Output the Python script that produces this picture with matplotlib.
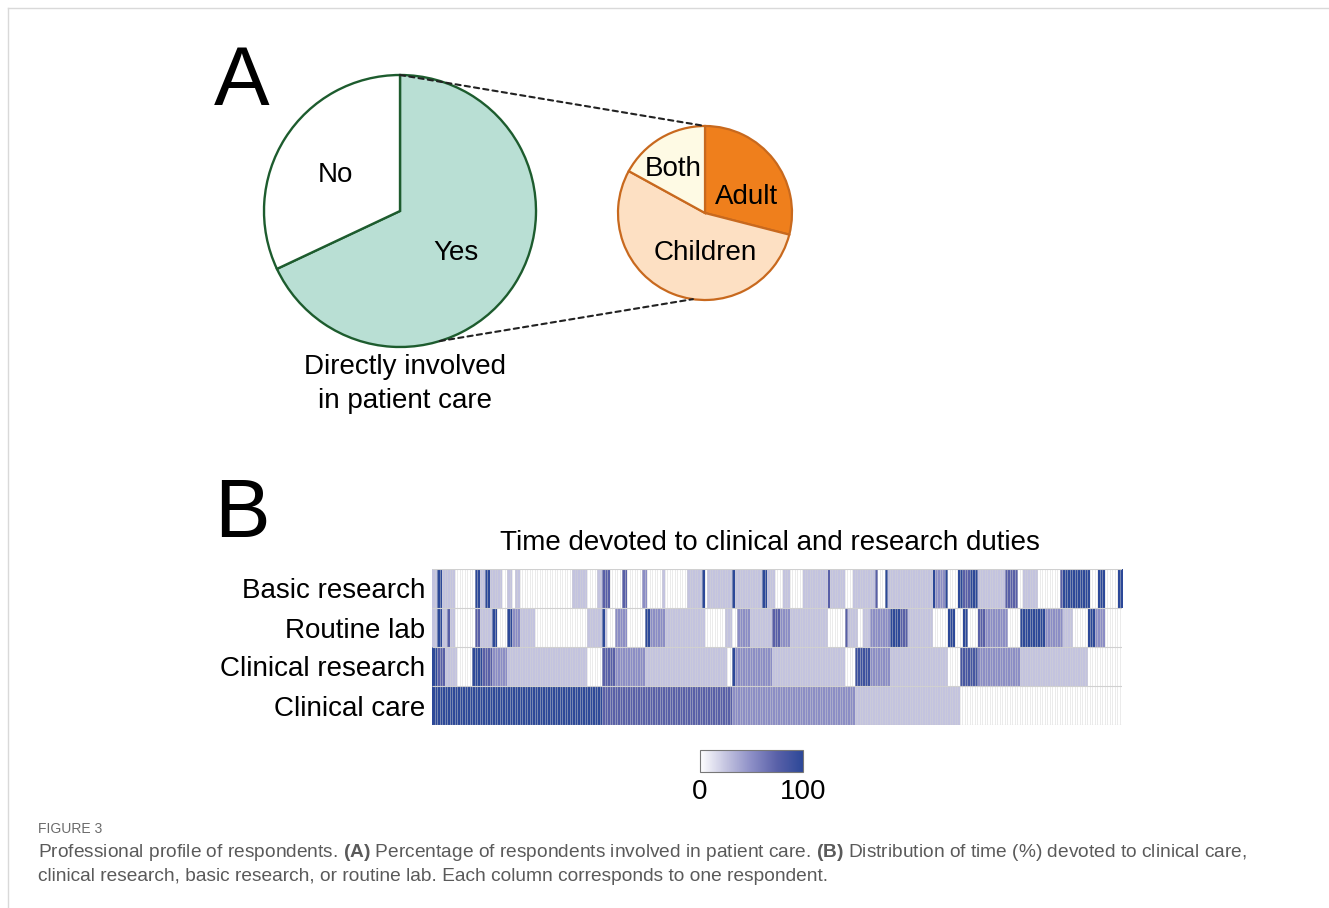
"""Professional profile of respondents: patient care pies and time heatmap"""
import numpy as np
import matplotlib.pyplot as plt
from matplotlib import font_manager
from matplotlib.colors import LinearSegmentedColormap
from matplotlib.lines import Line2D
from matplotlib.patches import ConnectionPatch

W, H = 1329, 908

# Panel A
CARE_LABELS = ["Yes", "No"]
CARE_PCT = [68, 32]
AGE_LABELS = ["Adult", "Children", "Both"]
AGE_PCT = [29, 54, 17]

# Panel B, one column per respondent, rows stored as runs of
# (first respondent index, % time)
N_RESP = 276
ROWS = ["Basic research", "Routine lab", "Clinical research", "Clinical care"]
BASIC_RESEARCH = [
    (0, 25), (2, 100), (4, 25), (9, 0), (17, 100), (19, 25), (21, 100),
    (23, 25), (28, 0), (30, 25), (32, 0), (33, 25), (35, 0), (56, 25),
    (62, 0), (66, 25), (68, 75), (71, 0), (76, 75), (78, 0), (84, 50),
    (86, 0), (92, 25), (93, 0), (102, 25), (108, 100), (109, 0), (110, 25),
    (120, 100), (121, 25), (132, 100), (134, 25), (137, 0), (140, 25),
    (143, 0), (148, 25), (158, 75), (159, 25), (165, 0), (168, 25),
    (177, 75), (178, 0), (181, 100), (182, 25), (200, 100), (201, 50),
    (205, 100), (206, 0), (210, 100), (212, 75), (215, 100), (218, 25),
    (229, 75), (234, 0), (236, 25), (242, 0), (251, 75), (252, 100),
    (263, 0), (266, 100), (269, 0), (274, 100),
]
ROUTINE_LAB = [
    (0, 25), (2, 100), (4, 25), (6, 75), (7, 25), (9, 0), (17, 75),
    (19, 25), (24, 100), (26, 0), (30, 100), (32, 50), (35, 25), (41, 0),
    (62, 25), (68, 100), (69, 25), (70, 0), (73, 50), (78, 0), (85, 100),
    (87, 50), (93, 25), (109, 0), (117, 25), (120, 0), (122, 50), (127, 25),
    (136, 75), (139, 50), (143, 25), (158, 0), (165, 75), (166, 25),
    (170, 0), (172, 25), (175, 50), (183, 100), (187, 75), (190, 25),
    (200, 0), (206, 100), (209, 0), (212, 100), (214, 0), (218, 75),
    (221, 50), (230, 0), (235, 100), (245, 50), (252, 25), (256, 0),
    (262, 100), (265, 50), (269, 0),
]
CLINICAL_RESEARCH = [
    (0, 100), (2, 75), (5, 25), (10, 0), (16, 100), (20, 75), (24, 50),
    (30, 25), (62, 0), (68, 75), (73, 50), (85, 25), (118, 0), (120, 100),
    (121, 50), (136, 25), (165, 0), (169, 90), (175, 50), (183, 25),
    (206, 0), (211, 85), (218, 50), (235, 25), (262, 0),
]
CLINICAL_CARE = [(0, 100), (68, 75), (120, 50), (169, 25), (211, 0)]


def expand(runs):
    """Turn (start, value) runs into one value per respondent"""
    vals = np.zeros(N_RESP)
    ends = [s for s, _ in runs[1:]] + [N_RESP]
    for (start, val), end in zip(runs, ends):
        vals[start:end] = val
    return vals


def fx(px):
    return px / W


def fy(py):
    return 1 - py / H


names = {f.name for f in font_manager.fontManager.ttflist}
CAPTION_FONT = ("Liberation Sans Narrow" if "Liberation Sans Narrow" in names
                else "Liberation Sans")
CAPTION_SIZE = 13 if CAPTION_FONT.endswith("Narrow") else 13.8
plt.rcParams["font.family"] = ["Liberation Sans", "DejaVu Sans"]
plt.rcParams["mathtext.fontset"] = "custom"
plt.rcParams["mathtext.rm"] = CAPTION_FONT
plt.rcParams["mathtext.bf"] = CAPTION_FONT + ":bold"

fig = plt.figure(figsize=(W / 100, H / 100), dpi=100)

# page frame
fig.add_artist(Line2D([fx(8), 1], [fy(8), fy(8)], color="#d9d9d9", lw=1))
fig.add_artist(Line2D([fx(8), fx(8)], [fy(8), 0], color="#d9d9d9", lw=1))


def pie_axes(cx, cy, r):
    pad = 1.05
    ax = fig.add_axes([fx(cx - r * pad), fy(cy + r * pad),
                       2 * r * pad / W, 2 * r * pad / H])
    return ax, pad


# ---- A: involvement in patient care
axA, pad = pie_axes(400, 211, 136)
axA.pie(CARE_PCT, colors=["#b9dfd4", "white"], startangle=90,
        counterclock=False,
        wedgeprops=dict(edgecolor="#1d5c2e", linewidth=1.7))
axA.set_xlim(-pad, pad)
axA.set_ylim(-pad, pad)
axA.axis("off")
for label, (ang, dist) in zip(CARE_LABELS, [(-35, 0.5), (149, 0.55)]):
    t = np.deg2rad(ang)
    axA.text(dist * np.cos(t), dist * np.sin(t), label, fontsize=20,
             ha="center", va="center_baseline")

axS, pad = pie_axes(705, 213, 87)
axS.pie(AGE_PCT, colors=["#ef7f1c", "#fde0c3", "#fefae4"], startangle=90,
        counterclock=False,
        wedgeprops=dict(edgecolor="#c8691e", linewidth=1.6))
axS.set_xlim(-pad, pad)
axS.set_ylim(-pad, pad)
axS.axis("off")
for label, (ang, dist) in zip(AGE_LABELS,
                              [(25, 0.53), (-90, 0.43), (124, 0.65)]):
    t = np.deg2rad(ang)
    axS.text(dist * np.cos(t), dist * np.sin(t), label, fontsize=20,
             ha="center", va="center_baseline")

# dashed zoom lines from the "Yes" slice to the small pie
for angA, angS in [(90, 90), (-73, -98)]:
    ta, ts = np.deg2rad(angA), np.deg2rad(angS)
    con = ConnectionPatch(xyA=(np.cos(ta), np.sin(ta)), coordsA=axA.transData,
                          xyB=(np.cos(ts), np.sin(ts)), coordsB=axS.transData,
                          color="#222222", lw=1.5, linestyle=(0, (2.5, 2)))
    fig.add_artist(con)

fig.text(fx(242), fy(105), "A", fontsize=60, ha="center", va="baseline")
fig.text(fx(405), fy(384), "Directly involved\nin patient care", fontsize=20,
         ha="center", va="center", linespacing=1.4)

# ---- B: time devoted to duties
cmap = LinearSegmentedColormap.from_list(
    "duty", [(0, "#ffffff"), (0.25, "#c4c4e0"), (0.5, "#8c8ec6"),
             (0.75, "#5960a8"), (1, "#2c4898")])
data = np.vstack([expand(r) for r in (BASIC_RESEARCH, ROUTINE_LAB,
                                      CLINICAL_RESEARCH, CLINICAL_CARE)])

axB = fig.add_axes([fx(432), fy(725), 690 / W, 156 / H])
img = axB.imshow(data, cmap=cmap, vmin=0, vmax=100, aspect="auto",
                 interpolation="nearest",
                 extent=(0, N_RESP, len(ROWS), 0))
# faint separators between respondents and between rows
axB.vlines(np.arange(1, N_RESP), 0, len(ROWS), color="#d4d4d4",
           lw=0.4, alpha=0.8)
axB.hlines(np.arange(0, len(ROWS) + 1), 0, N_RESP, color="#d0d0d0", lw=0.8)
axB.set_xlim(0, N_RESP)
axB.set_ylim(len(ROWS), 0)
axB.set_yticks(np.arange(len(ROWS)) + 0.5, ROWS, fontsize=20)
axB.set_xticks([])
axB.tick_params(length=0, pad=5)
for s in axB.spines.values():
    s.set_visible(False)

fig.text(fx(242), fy(537), "B", fontsize=60, ha="center", va="baseline")
fig.text(fx(770), fy(540), "Time devoted to clinical and research duties",
         fontsize=20, ha="center", va="center_baseline")

cax = fig.add_axes([fx(700), fy(772), 103 / W, 22 / H])
cb = fig.colorbar(img, cax=cax, orientation="horizontal", ticks=[0, 100])
cb.outline.set_edgecolor("#777777")
cb.outline.set_linewidth(0.8)
cax.tick_params(length=0, labelsize=20, pad=5)

# ---- caption
fig.text(fx(38), fy(833), "FIGURE 3", fontsize=10, color="#6b6b6b",
         family=CAPTION_FONT)
fig.text(fx(38), fy(857),
         "Professional profile of respondents. $\\mathbf{(A)}$ Percentage of "
         "respondents involved in patient care. $\\mathbf{(B)}$ Distribution "
         "of time (%) devoted to clinical care,",
         fontsize=CAPTION_SIZE, color="#5a5a5a", family=CAPTION_FONT)
fig.text(fx(38), fy(881),
         "clinical research, basic research, or routine lab. Each column "
         "corresponds to one respondent.",
         fontsize=CAPTION_SIZE, color="#5a5a5a", family=CAPTION_FONT)

fig.savefig("out.png", dpi=100)
